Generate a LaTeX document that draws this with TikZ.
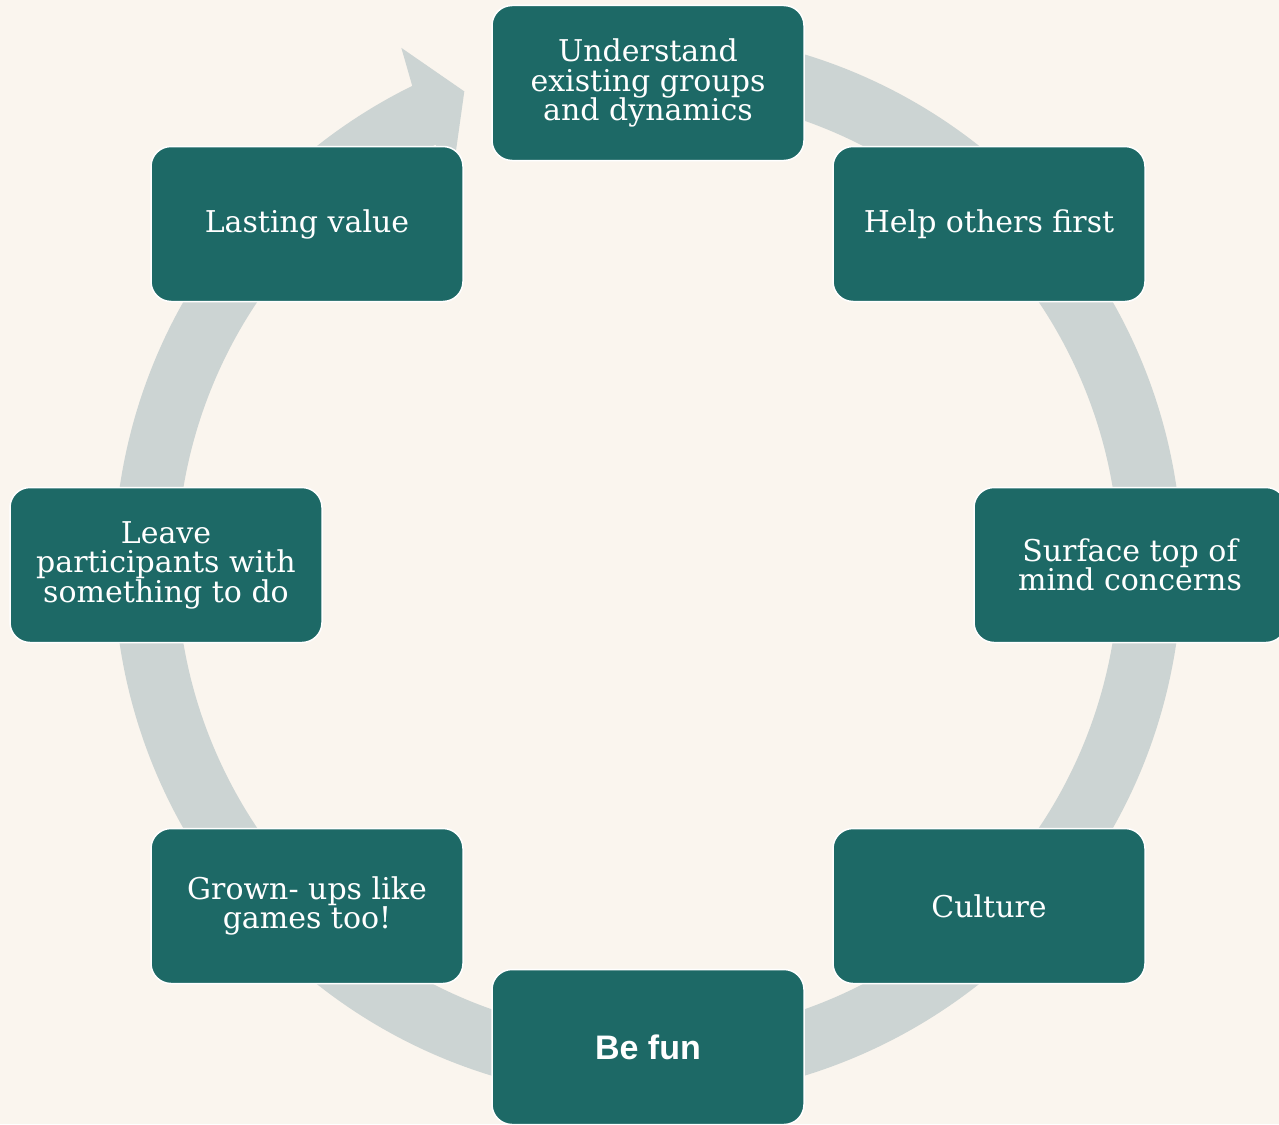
\documentclass[tikz,border=0pt]{standalone}
\usepackage{fontspec}
\setmainfont{DejaVu Serif}
\newfontfamily\funfont{Liberation Sans}
\definecolor{paper}{HTML}{FAF5EE}
\definecolor{boxteal}{HTML}{1D6966}
\definecolor{ringgray}{HTML}{CCD4D3}

\begin{document}
\begin{tikzpicture}[x=1pt,y=-1pt]
	\tikzstyle{every node}+=[inner sep=0pt]
	\tikzstyle{stage}=[draw=white, line width=1.5pt, fill=boxteal, rounded corners=20pt, minimum width=312pt, minimum height=155pt, text=white, align=center, font=\fontsize{30}{29.5}\selectfont]
	\fill [paper] (0,0) rectangle (1279,1124);
	\useasboundingbox (0,0) rectangle (1279,1124);
	% ring with arrow head
	\begin{scope}[shift={(648,565)},y=1pt]
	\fill [ringgray] (80:534) arc[start angle=80, end angle=-243.8, radius=534] -- (-244.5:573) -- (-248.8:508) -- (-243:432) -- (-243.2:471) arc[start angle=-243.2, end angle=80, radius=471] -- cycle;
	\end{scope}
	% stages
	\node [stage] (understand) at (648,83) {Understand\\existing groups\\and dynamics};
	\node [stage] (help) at (989,224) {Help others first};
	\node [stage] (surface) at (1130,565) {Surface top of\\mind concerns};
	\node [stage] (culture) at (989,906) {Culture};
	\node [stage, font=\funfont\bfseries\fontsize{34}{36}\selectfont] (befun) at (648,1047) {Be fun};
	\node [stage] (grownups) at (307,906) {Grown- ups like\\games too!};
	\node [stage] (leave) at (166,565) {Leave\\participants with\\something to do};
	\node [stage] (lasting) at (307,224) {Lasting value};
\end{tikzpicture}
\end{document}
